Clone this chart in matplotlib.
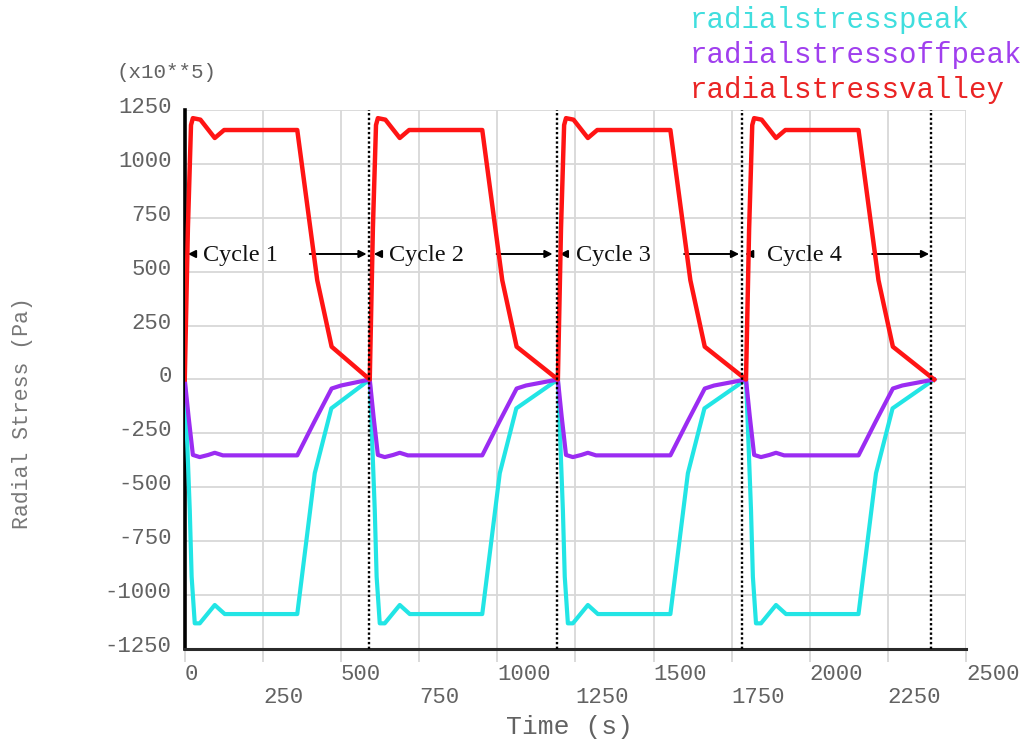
import matplotlib
matplotlib.use("Agg")
import matplotlib.pyplot as plt
import matplotlib.transforms as mtransforms

# ---- data (time in s, stress in x10^5 Pa) ----
time_peak = [0, 6, 16, 22, 32, 48, 96, 128, 360, 416, 469, 592,
             598, 608, 614, 624, 640, 688, 720, 952, 1008, 1061, 1194,
             1200, 1210, 1216, 1226, 1242, 1290, 1322, 1554, 1610, 1663, 1796,
             1802, 1812, 1818, 1828, 1844, 1892, 1924, 2156, 2212, 2265, 2398]
stress_peak = [0, -220, -605, -915, -1131, -1131, -1046, -1088, -1088, -435, -134, 0,
               -220, -605, -915, -1131, -1131, -1046, -1088, -1088, -435, -134, 0,
               -220, -605, -915, -1131, -1131, -1046, -1088, -1088, -435, -134, 0,
               -220, -605, -915, -1131, -1131, -1046, -1088, -1088, -435, -134, 0]

time_offpeak = [0, 12, 26, 48, 75, 96, 122, 360, 415, 470, 500, 592,
                604, 618, 640, 667, 688, 714, 952, 1007, 1062, 1092, 1194,
                1206, 1220, 1242, 1269, 1290, 1316, 1554, 1609, 1664, 1694, 1796,
                1808, 1822, 1844, 1871, 1892, 1918, 2156, 2211, 2266, 2296, 2398]
stress_offpeak = [0, -170, -350, -360, -350, -340, -352, -352, -195, -42, -28, 0,
                  -170, -350, -360, -350, -340, -352, -352, -195, -42, -28, 0,
                  -170, -350, -360, -350, -340, -352, -352, -195, -42, -28, 0,
                  -170, -350, -360, -350, -340, -352, -352, -195, -42, -28, 0]

time_valley = [0, 10, 20, 26, 50, 96, 126, 360, 424, 470, 592,
               602, 612, 618, 642, 688, 718, 952, 1016, 1062, 1194,
               1204, 1214, 1220, 1244, 1290, 1320, 1554, 1618, 1664, 1796,
               1806, 1816, 1822, 1846, 1892, 1922, 2156, 2220, 2266, 2398]
stress_valley = [0, 700, 1180, 1212, 1205, 1120, 1157, 1157, 460, 152, 0,
                 700, 1180, 1212, 1205, 1120, 1157, 1157, 460, 152, 0,
                 700, 1180, 1212, 1205, 1120, 1157, 1157, 460, 152, 0,
                 700, 1180, 1212, 1205, 1120, 1157, 1157, 460, 152, 0]

series_names = ["radialstresspeak", "radialstressoffpeak", "radialstressvalley"]
series_colors = ["#22e5e5", "#9b2cf2", "#ff1414"]
label_colors = ["#40dede", "#a03fee", "#ea2424"]

x_ticks = [0, 250, 500, 750, 1000, 1250, 1500, 1750, 2000, 2250, 2500]
y_ticks = [-1250, -1000, -750, -500, -250, 0, 250, 500, 750, 1000, 1250]

# cycle annotations
cycle_names = ["Cycle 1", "Cycle 2", "Cycle 3", "Cycle 4"]
cycle_bounds = [589, 1190, 1784, 2388]          # dotted separators
cycle_left_tip = [10, 605, 1200, 1793]
cycle_text_x = [58, 653, 1253, 1864]
cycle_arrow_from = [400, 998, 1598, 2200]
cycle_arrow_to = [582, 1177, 1774, 2382]
cycle_arrow_y = 582

MONO = "Liberation Mono"
SERIF = "Liberation Serif"
GRID = "#d8d8d8"
TXT = "#626262"

fig = plt.figure(figsize=(10.27, 7.39), dpi=100)
ax = fig.add_axes([0.1799, 0.1218, 0.7607, 0.7294])

ax.set_xlim(0, 2500)
ax.set_ylim(-1250, 1250)

ax.plot(time_peak, stress_peak, color=series_colors[0], lw=3.0, zorder=3,
        solid_joinstyle="round")
ax.plot(time_offpeak, stress_offpeak, color=series_colors[1], lw=3.0, zorder=3.1,
        solid_joinstyle="round")
ax.plot(time_valley, stress_valley, color=series_colors[2], lw=3.2, zorder=3.2,
        solid_joinstyle="round")

# grid and axes styling
ax.set_xticks(x_ticks)
ax.set_xticklabels([("\n" + str(v)) if i % 2 else str(v) for i, v in enumerate(x_ticks)],
                   fontfamily=MONO, fontsize=16, color=TXT, linespacing=1.1)
ax.set_yticks(y_ticks)
ax.set_yticklabels([str(v) for v in y_ticks], fontfamily=MONO, fontsize=16, color=TXT)
for lbl in ax.get_xticklabels():
    lbl.set_ha("left")
ax.tick_params(axis="x", direction="out", length=9, width=1.3, color=GRID, pad=2.0)
ax.tick_params(axis="y", length=0, pad=9.5)
shift = mtransforms.ScaledTranslation(0, 5 / 100, fig.dpi_scale_trans)
for lbl in ax.get_yticklabels():
    lbl.set_transform(lbl.get_transform() + shift)

ax.grid(True, color=GRID, lw=1.3, zorder=0)
ax.set_axisbelow(True)
for side in ("top", "right"):
    ax.spines[side].set_visible(False)
ax.spines["left"].set_color("black")
ax.spines["left"].set_linewidth(2.6)
ax.spines["bottom"].set_color("#2a2a2a")
ax.spines["bottom"].set_linewidth(2.2)

# cycle separators and annotations
for i, name in enumerate(cycle_names):
    ax.axvline(cycle_bounds[i], color="black", lw=1.7, ls=(0, (1, 1)), zorder=4)
    ax.annotate("", xy=(cycle_left_tip[i], cycle_arrow_y),
                xytext=(cycle_left_tip[i] + 22, cycle_arrow_y),
                arrowprops=dict(arrowstyle="-|>", color="black", lw=1.4,
                                mutation_scale=11, shrinkA=0, shrinkB=0), zorder=2.5)
    ax.annotate("", xy=(cycle_arrow_to[i], cycle_arrow_y),
                xytext=(cycle_arrow_from[i], cycle_arrow_y),
                arrowprops=dict(arrowstyle="-|>", color="black", lw=1.4,
                                mutation_scale=11, shrinkA=0, shrinkB=0), zorder=2.5)
    ax.text(cycle_text_x[i], cycle_arrow_y - 8, name, fontfamily=SERIF, fontsize=17.5,
            ha="left", va="center", color="#111111", zorder=2.6)

# axis titles
fig.text(570 / 1027, 1 - 727 / 739, "Time (s)", fontfamily=MONO, fontsize=19,
         color=TXT, ha="center", va="center")
fig.text(23 / 1027, 1 - 413 / 739, "Radial Stress (Pa)", fontfamily=MONO, fontsize=15.5,
         color="#777777", ha="center", va="center", rotation=90)
fig.text(117 / 1027, 1 - 73 / 739, "(x10**5)", fontfamily=MONO, fontsize=15,
         color=TXT, ha="left", va="center")

# series names
for i, name in enumerate(series_names):
    fig.text(690 / 1027, 1 - (20 + 35 * i) / 739, name, fontfamily=MONO, fontsize=21,
             color=label_colors[i], ha="left", va="center")

fig.savefig("out.png", dpi=100, facecolor="white")
